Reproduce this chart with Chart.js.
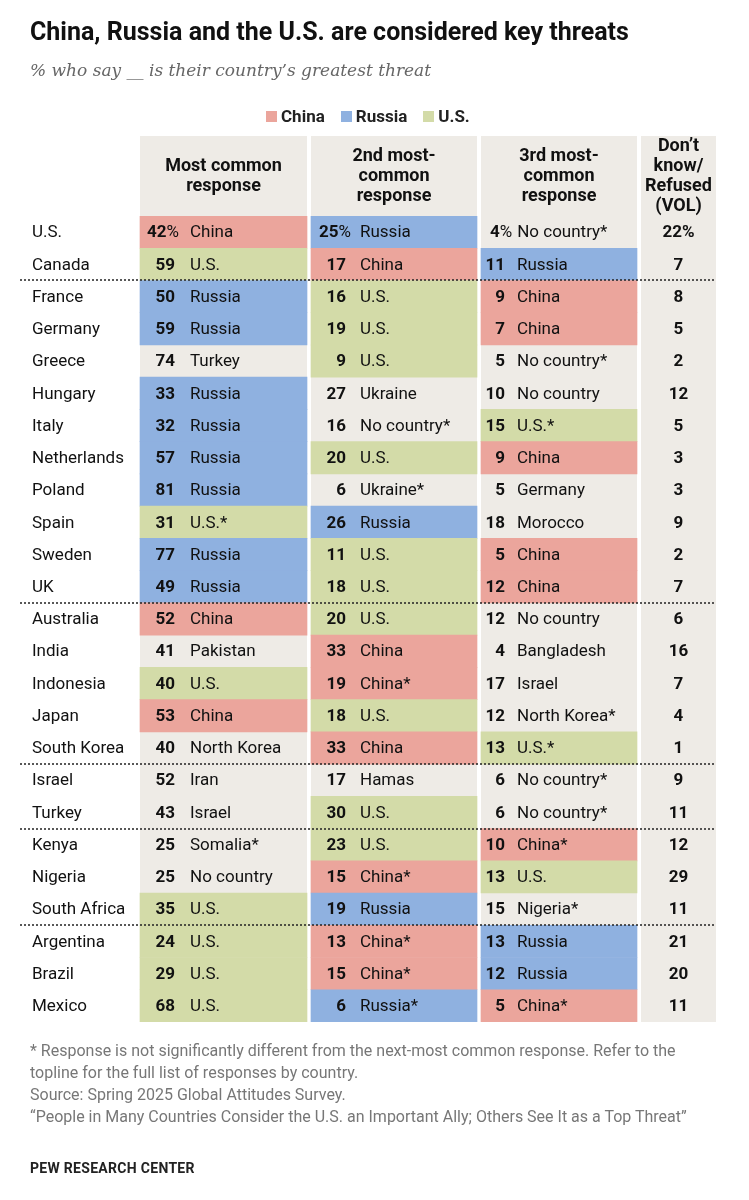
<!DOCTYPE html>
<html><head><meta charset="utf-8">
<script src="https://cdn.jsdelivr.net/npm/chart.js@4"></script>
<style>
body{margin:0;background:#fff;font-family:Roboto,"Liberation Sans",sans-serif;}
#wrap{position:relative;width:749px;height:1200px;}
canvas{position:absolute;left:0;top:0;}
.t{position:absolute;left:30px;white-space:nowrap;}
#title{top:17px;font-size:25px;font-weight:bold;color:#111;}
#sub{top:60px;font-style:italic;color:#666;font-family:"DejaVu Serif",serif;font-size:17px;}
#legend{top:106px;left:250px;font-size:17px;font-weight:bold;color:#222;}
#legend span.k{display:inline-block;width:11px;height:11px;margin:0 4px 0 16px;}
#foot{top:1040px;font-size:16px;color:#777;line-height:22px;width:690px;white-space:normal;}
#pew{top:1160px;font-size:14px;font-weight:bold;color:#222;letter-spacing:0.3px;}
</style></head><body>
<div id="wrap">
<canvas id="c" width="749" height="1200"></canvas>
<div class="t" id="title">China, Russia and the U.S. are considered key threats</div>
<div class="t" id="sub">% who say __ is their country’s greatest threat</div>
<div class="t" id="legend"><span class="k" style="background:#eba59c"></span>China<span class="k" style="background:#8fb1e0"></span>Russia<span class="k" style="background:#d3dba8"></span>U.S.</div>
<div class="t" id="foot">* Response is not significantly different from the next-most common response. Refer to the topline for the full list of responses by country.<br>Source: Spring 2025 Global Attitudes Survey.<br>“People in Many Countries Consider the U.S. an Important Ally; Others See It as a Top Threat”</div>
<div class="t" id="pew">PEW RESEARCH CENTER</div>
</div>
<script>
const countries = ['U.S.','Canada','France','Germany','Greece','Hungary','Italy','Netherlands','Poland','Spain','Sweden','UK','Australia','India','Indonesia','Japan','South Korea','Israel','Turkey','Kenya','Nigeria','South Africa','Argentina','Brazil','Mexico'];
const firstVals = [42,59,50,59,74,33,32,57,81,31,77,49,52,41,40,53,40,52,43,25,25,35,24,29,68];
const firstLabels = ['China','U.S.','Russia','Russia','Turkey','Russia','Russia','Russia','Russia','U.S.*','Russia','Russia','China','Pakistan','U.S.','China','North Korea','Iran','Israel','Somalia*','No country','U.S.','U.S.','U.S.','U.S.'];
const secondVals = [25,17,16,19,9,27,16,20,6,26,11,18,20,33,19,18,33,17,30,23,15,19,13,15,6];
const secondLabels = ['Russia','China','U.S.','U.S.','U.S.','Ukraine','No country*','U.S.','Ukraine*','Russia','U.S.','U.S.','U.S.','China','China*','U.S.','China','Hamas','U.S.','U.S.','China*','Russia','China*','China*','Russia*'];
const thirdVals = [4,11,9,7,5,10,15,9,5,18,5,12,12,4,17,12,13,6,6,10,13,15,13,12,5];
const thirdLabels = ['No country*','Russia','China','China','No country*','No country','U.S.*','China','Germany','Morocco','China','China','No country','Bangladesh','Israel','North Korea*','U.S.*','No country*','No country*','China*','U.S.','Nigeria*','Russia','Russia','China*'];
const dontKnow = [22,7,8,5,2,12,5,3,3,9,2,7,6,16,7,4,1,9,11,12,29,11,21,20,11];
const groupEnds = ['Canada','UK','South Korea','Turkey','South Africa'];

const cols = [[140,307],[311,477],[481,637],[641,716]];
const threatColor = {China:'#eba59c',Russia:'#8fb1e0','U.S.':'#d3dba8'};
const cellColor = l => threatColor[l.replace('*','')] || 'rgba(0,0,0,0)';

const mkSet = (labels, col) => ({
  data: countries.map((c,i) => ({x: cols[col], y: c})),
  backgroundColor: labels.map(cellColor),
  barPercentage: 1, categoryPercentage: 1, borderSkipped: false
});

const table = {
  id: 'table',
  beforeDatasetsDraw(ch) {
    const g = ch.ctx;
    g.save();
    g.fillStyle = '#eeebe6';
    cols.forEach(([a,b]) => g.fillRect(a, 136, b - a, ch.chartArea.bottom - 136));
    g.restore();
  },
  afterDatasetsDraw(ch) {
    const g = ch.ctx, ys = ch.scales.y;
    const half = (ys.getPixelForValue(1) - ys.getPixelForValue(0)) / 2;
    g.save();
    g.fillStyle = '#111';
    g.textBaseline = 'middle';
    // headers
    g.font = 'bold 18px Roboto';
    g.textAlign = 'center';
    const heads = [['Most common','response'],['2nd most-','common','response'],['3rd most-','common','response'],["Don’t",'know/','Refused','(VOL)']];
    heads.forEach((h,k) => {
      const cx = (cols[k][0] + cols[k][1]) / 2;
      const y0 = 176 - (h.length - 1) * 10;
      h.forEach((s,j) => g.fillText(s, cx, y0 + j * 20));
    });
    const sets = [[firstVals,firstLabels,35,50,7],[secondVals,secondLabels,35,49,8],[thirdVals,thirdLabels,24,36,9]];
    countries.forEach((c,i) => {
      const y = ys.getPixelForValue(i) + 1;
      g.textAlign = 'left';
      g.font = '17px Roboto';
      g.fillText(c, 32, y);
      sets.forEach(([v,l,nx,lx,fx],k) => {
        const x0 = cols[k][0];
        g.font = 'bold 17px Roboto';
        if (i === 0) {
          // first row: number + % flush left
          g.textAlign = 'left';
          g.fillText(String(v[i]), x0 + fx, y);
          const w = g.measureText(String(v[i])).width;
          g.font = '17px Roboto';
          g.fillText('%', x0 + fx + w, y);
          const w2 = g.measureText('%').width;
          g.fillText(l[i], Math.max(x0 + lx, x0 + fx + w + w2 + 5), y);
          return;
        }
        g.textAlign = 'right';
        g.fillText(String(v[i]), x0 + nx, y);
        g.textAlign = 'left';
        g.font = '17px Roboto';
        g.fillText(l[i], x0 + lx, y);
      });
      g.textAlign = 'center';
      g.font = 'bold 17px Roboto';
      g.fillText(dontKnow[i] + (i === 0 ? '%' : ''), (cols[3][0] + cols[3][1]) / 2, y);
    });
    // group separators
    g.strokeStyle = '#222';
    g.lineWidth = 1.5;
    g.setLineDash([2,2]);
    groupEnds.forEach(c => {
      const y = Math.round(ys.getPixelForValue(countries.indexOf(c)) + half);
      g.beginPath(); g.moveTo(20, y); g.lineTo(716, y); g.stroke();
    });
    g.restore();
  }
};

new Chart(document.getElementById('c'), {
  type: 'bar',
  data: {
    labels: countries,
    datasets: [mkSet(firstLabels,0), mkSet(secondLabels,1), mkSet(thirdLabels,2)]
  },
  options: {
    indexAxis: 'y',
    responsive: false,
    animation: false,
    grouped: false,
    layout: { padding: { top: 216, bottom: 1200 - 1022, left: 0, right: 0 } },
    plugins: { legend: { display: false }, tooltip: { enabled: false } },
    scales: {
      x: { type: 'linear', min: 0, max: 749, display: false },
      y: { type: 'category', display: false, offset: true }
    }
  },
  plugins: [table]
});
</script>
</body></html>
